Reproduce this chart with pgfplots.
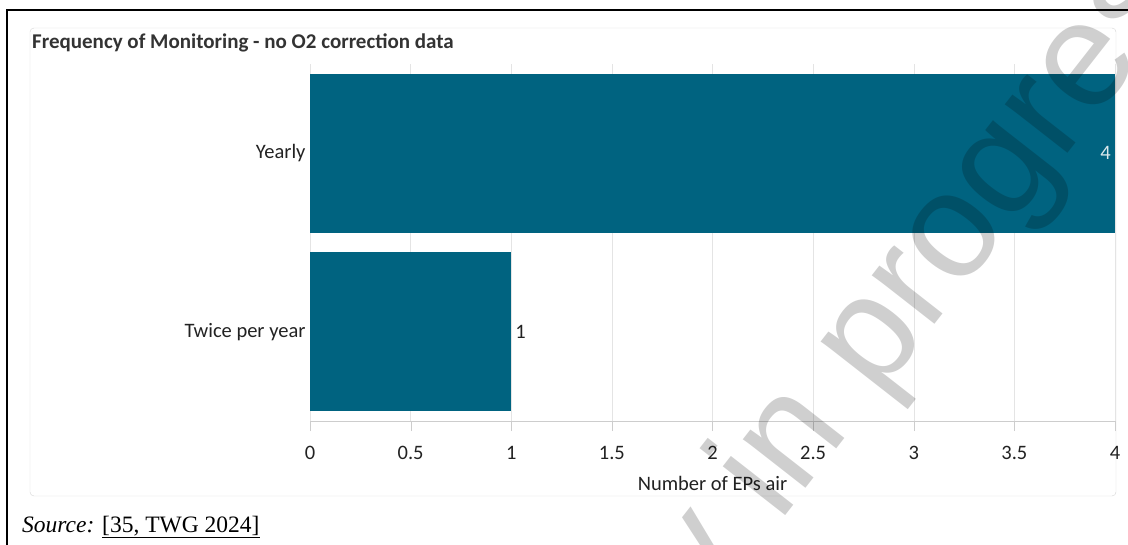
\documentclass[border=0pt]{standalone}
\usepackage{fontspec}
\setmainfont{Carlito}
\newfontfamily\seriffont{Liberation Serif}
\newfontfamily\wmfont{Liberation Sans}
\usepackage{pgfplots}
\pgfplotsset{compat=1.18}
\definecolor{barteal}{RGB}{0,99,128}
\definecolor{txt}{RGB}{34,34,34}
\definecolor{ttl}{RGB}{51,51,51}
\definecolor{gridc}{RGB}{228,228,228}
\definecolor{axc}{RGB}{205,205,205}
\definecolor{panel}{RGB}{212,212,212}
\newcommand{\fs}[1]{\fontsize{#1}{#1}\selectfont}

\begin{document}
\begin{tikzpicture}
\useasboundingbox (0pt,0pt) rectangle (1128pt,-545pt);
\clip (0pt,0pt) rectangle (1128pt,-545pt);
% page frame
\draw[line width=2pt] (7pt,-560pt) -- (7pt,-10pt) -- (1140pt,-10pt);
% chart panel
\draw[panel, rounded corners=4pt] (30pt,-28pt) rectangle (1116pt,-496pt);
\node[anchor=base west, inner sep=0pt, text=ttl, font=\fs{21}\bfseries]
  at (32pt,-49pt) {Frequency of Monitoring - no O2 correction data};

\begin{axis}[
  at={(310pt,-421pt)}, anchor=south west,
  scale only axis, width=805pt, height=357pt,
  xmin=0, xmax=4, ymin=-0.5, ymax=1.5,
  xbar, bar width=159pt, bar shift=0pt,
  ytick={0,1}, yticklabels={Twice per year, Yearly},
  xtick={0,0.5,...,4},
  axis x line*=bottom, axis y line*=left,
  y axis line style={draw=none},
  x axis line style={axc},
  xmajorgrids, grid style={gridc},
  tick align=outside, major tick length=10pt,
  xtick style={axc}, ytick style={draw=none},
  tick label style={font=\fs{20.5}, text=txt},
  xticklabel style={yshift=-12pt},
  yticklabel style={xshift=9pt},
  /pgf/number format/assume math mode=true,
  xlabel={Number of EPs air},
  xlabel style={at={(axis description cs:0.5,0)}, anchor=center,
    yshift=-62pt, font=\fs{20.5}, text=txt},
  point meta=x,
  clip=false,
]
\addplot[fill=barteal, draw=none, nodes near coords,
  every node near coord/.append style={anchor=east, inner sep=4pt,
    text=white!85!barteal, font=\fs{20.5}}]
  coordinates {(4,1)};
\addplot[fill=barteal, draw=none, nodes near coords,
  every node near coord/.append style={anchor=west, inner sep=4pt,
    text=txt, font=\fs{20.5}}]
  coordinates {(1,0)};
\end{axis}

\node[anchor=base west, inner sep=0pt, font=\seriffont\fs{23.5}]
  at (22pt,-532pt) {\textit{Source:} \underline{[35, TWG 2024]}};

% watermark
\node[rotate=52, anchor=base west, inner sep=0pt, opacity=0.19,
  font=\wmfont\fs{150}] at (707.6pt,-615pt) {y in progress};
\end{tikzpicture}
\end{document}
